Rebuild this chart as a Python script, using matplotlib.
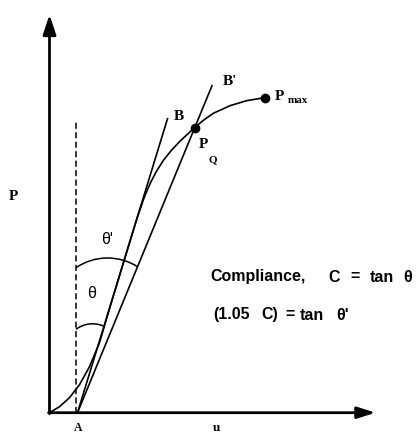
import matplotlib.pyplot as plt
import numpy as np
from matplotlib.patches import Arc

# load-displacement curve (u, P) in drawing units
curve_u = [0, 10, 20, 30, 40, 50, 60, 70, 80, 88, 95, 101, 107, 114, 122, 130.5, 138, 145, 154, 164, 180.5, 197, 215]
curve_P = [0, 6, 15, 28, 46, 70, 104, 137, 170, 196, 216, 230, 241.5, 252.5, 262.5, 271.5, 278.5, 285, 292.5, 299.5, 307, 312, 315]

# tangent lines from A
point_A = (28, 0)
end_B = (118, 294)
end_Bp = (162.5, 327)

# dashed vertical reference
dash_u = 26.5
dash_top = 292

# marked points
PQ = (145, 285)
Pmax = (215, 315)

# angle arcs: left end, peak, right end
arc_theta_p = [(26.5, 145), (57.2, 154.7), (88, 146)]
arc_theta = [(26.5, 83.4), (39, 88.6), (53.8, 86.7)]

# axis extents
u_max = 326
P_max = 398

# annotation text pieces and their left positions
line1_words = ['Compliance,', 'C', '=', 'tan', 'θ']
line1_x = [160.5, 278.5, 300.5, 320.5, 353.5]
line2_words = ['(1.05', 'C)', '=', 'tan', "θ'"]
line2_x = [163.5, 211.5, 235.5, 250.5, 286.5]


def circle_3pts(p1, p2, p3):
    ax_, ay = p1
    bx, by = p2
    cx, cy = p3
    d = 2 * (ax_ * (by - cy) + bx * (cy - ay) + cx * (ay - by))
    ux = ((ax_**2 + ay**2) * (by - cy) + (bx**2 + by**2) * (cy - ay) + (cx**2 + cy**2) * (ay - by)) / d
    uy = ((ax_**2 + ay**2) * (cx - bx) + (bx**2 + by**2) * (ax_ - cx) + (cx**2 + cy**2) * (bx - ax_)) / d
    r = np.hypot(ax_ - ux, ay - uy)
    return ux, uy, r


def draw_arc(ax, pts):
    cx, cy, r = circle_3pts(*pts)
    t1 = np.degrees(np.arctan2(pts[2][1] - cy, pts[2][0] - cx))
    t2 = np.degrees(np.arctan2(pts[0][1] - cy, pts[0][0] - cx))
    ax.add_patch(Arc((cx, cy), 2 * r, 2 * r, theta1=t1, theta2=t2, color='black', lw=1.1))


fig = plt.figure(figsize=(4.19, 4.34), dpi=100)
ax = fig.add_axes([0, 0, 1, 1])
ax.set_xlim(-49.5, 369.5)
ax.set_ylim(-21.3, 412.7)
ax.axis('off')

# axes with arrows
ax.annotate('', xy=(0, P_max), xytext=(0, -1), arrowprops=dict(arrowstyle='-|>,head_length=1.2,head_width=0.4', lw=2, color='black', shrinkA=0, shrinkB=0))
ax.annotate('', xy=(u_max, 0), xytext=(-1, 0), arrowprops=dict(arrowstyle='-|>,head_length=1.1,head_width=0.35', lw=2, color='black', shrinkA=0, shrinkB=0))

ax.plot(curve_u, curve_P, color='black', lw=1.2, solid_capstyle='round', solid_joinstyle='round')
ax.plot([point_A[0], end_B[0]], [point_A[1], end_B[1]], color='black', lw=1.2)
ax.plot([point_A[0], end_Bp[0]], [point_A[1], end_Bp[1]], color='black', lw=1.2)
ax.plot([dash_u, dash_u], [0, dash_top], color='black', lw=1.1, dashes=(4, 2.2))

ax.plot(*PQ, 'o', color='black', ms=6)
ax.plot(*Pmax, 'o', color='black', ms=6)

draw_arc(ax, arc_theta_p)
draw_arc(ax, arc_theta)

serif = dict(family='Liberation Serif', weight='bold', color='black')
sans = dict(family='Liberation Sans', color='black')

ax.text(-36.5, 215.7, 'P', fontsize=11, ha='center', va='center', **serif)
ax.text(28.5, -9.5, 'A', fontsize=8.5, ha='center', va='top', **serif)
ax.text(167.5, -9.5, 'u', fontsize=9.5, ha='center', va='top', **serif)
ax.text(129, 296, 'B', fontsize=11, ha='center', va='center', **serif)
ax.text(180, 331, "B'", fontsize=11, ha='center', va='center', **serif)
ax.text(153.8, 267.7, 'P', fontsize=11, ha='center', va='center', **serif)
ax.text(163.5, 252.5, 'Q', fontsize=8, ha='center', va='center', **serif)
ax.text(229.8, 316.5, 'P', fontsize=11, ha='center', va='center', **serif)
ax.text(238, 312.5, 'max', fontsize=8, ha='left', va='center', **serif)

ax.text(57.2, 172.7, "θ'", fontsize=11.5, ha='center', va='center', **sans)
ax.text(42.2, 119.4, 'θ', fontsize=11.5, ha='center', va='center', **sans)

for word, x in zip(line1_words, line1_x):
    ax.text(x, 135.7, word, fontsize=11.5, weight='bold', ha='left', va='center', **sans)
for word, x in zip(line2_words, line2_x):
    ax.text(x, 97.7, word, fontsize=11.5, weight='bold', ha='left', va='center', **sans)

fig.savefig('out.png', dpi=100)
